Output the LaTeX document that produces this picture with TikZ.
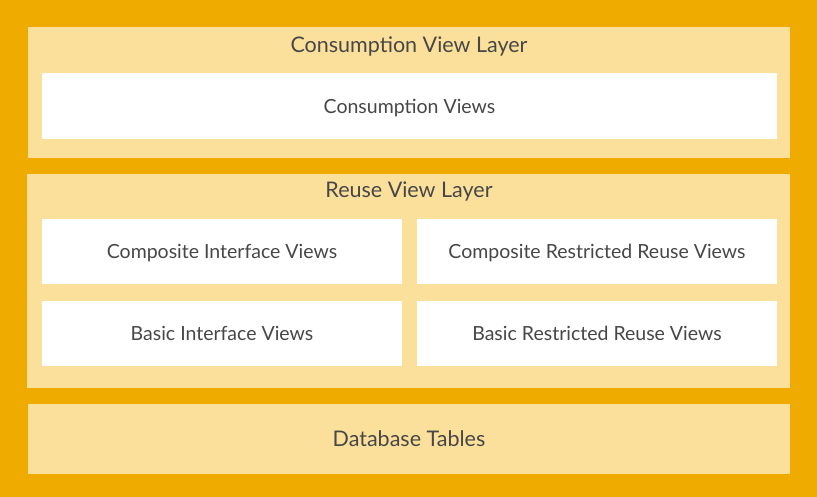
\documentclass[tikz,border=0pt]{standalone}
\usepackage{fontspec}
\setmainfont{Lato}
\begin{document}
\begin{tikzpicture}[x=1pt,y=-1pt,
  layer/.style={fill=layerbg,draw=none,inner sep=0pt,text depth=0pt},
  viewbox/.style={fill=white,draw=none,inner sep=0pt,text=labelgray,text depth=0pt,
    minimum width=360pt,minimum height=65pt,font=\fontsize{19.5}{22}\selectfont},
  title/.style={text=labelgray,font=\fontsize{21.5}{24}\selectfont,inner sep=0pt,text depth=0pt}]
\definecolor{outerbg}{HTML}{F0AB00}
\definecolor{layerbg}{HTML}{FBE09B}
\definecolor{labelgray}{HTML}{474747}
% background frame
\fill[outerbg] (0,0) rectangle (817,497);
\useasboundingbox (0,0) rectangle (817,497);
% consumption view layer
\node[layer,minimum width=762pt,minimum height=131pt] (clayer) at (409,92.5) {};
\node[title] (ctitle) at (409,45) {Consumption View Layer};
\node[viewbox,minimum width=735pt,minimum height=66pt] (cviews) at (409.5,106) {Consumption Views};
% reuse view layer
\node[layer,minimum width=763pt,minimum height=214pt] (rlayer) at (408.5,281) {};
\node[title] (rtitle) at (409,190) {Reuse View Layer};
\node[viewbox] (civ) at (222,251.5) {Composite Interface Views};
\node[viewbox] (crrv) at (597,251.5) {Composite Restricted Reuse Views};
\node[viewbox] (biv) at (222,333.5) {Basic Interface Views};
\node[viewbox] (brrv) at (597,333.5) {Basic Restricted Reuse Views};
% database tables
\node[layer,minimum width=762pt,minimum height=70pt,text=labelgray,
  font=\fontsize{21.5}{24}\selectfont] (db) at (409,439) {Database Tables};
\end{tikzpicture}
\end{document}
